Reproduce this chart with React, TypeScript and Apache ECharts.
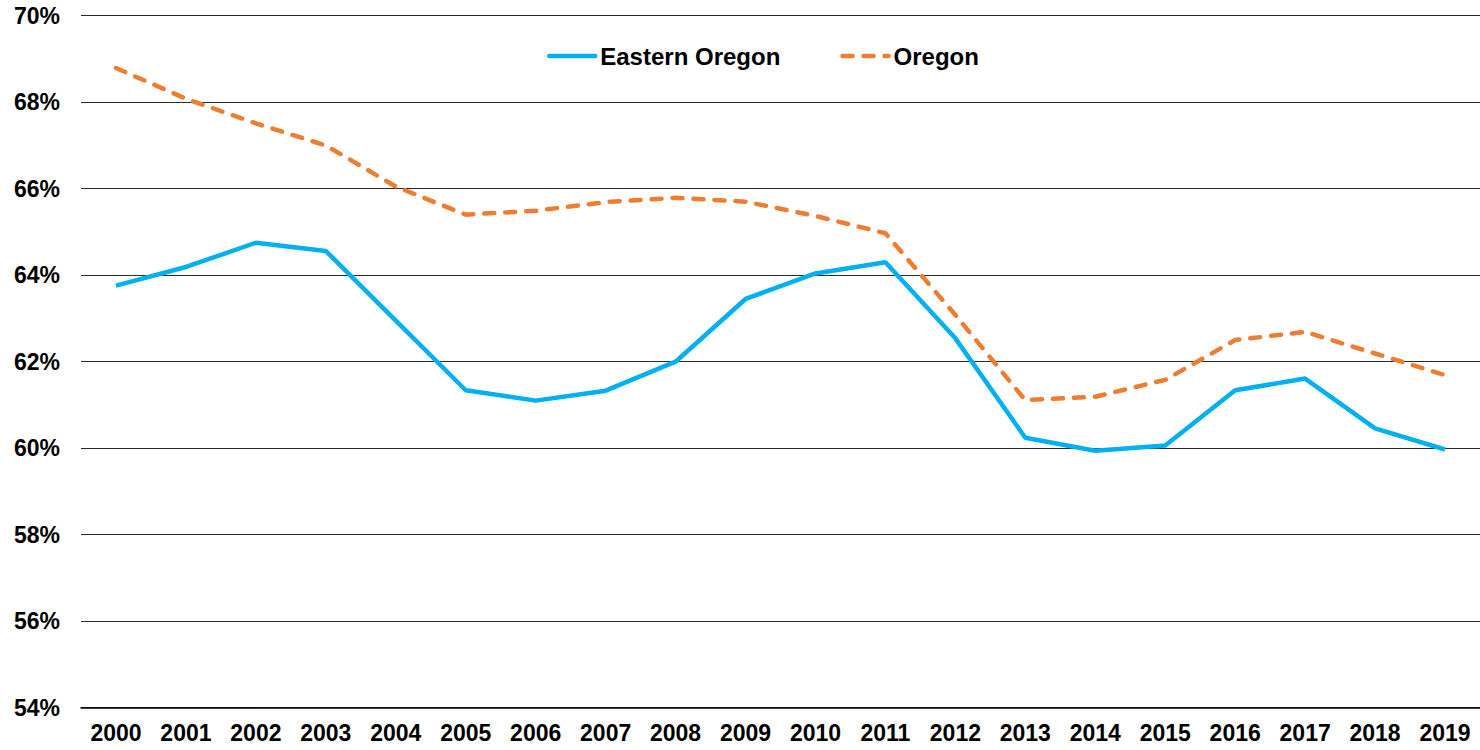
import React, { useEffect, useRef } from "react";
import * as echarts from "echarts";

const years = ["2000","2001","2002","2003","2004","2005","2006","2007","2008","2009","2010","2011","2012","2013","2014","2015","2016","2017","2018","2019"];
const easternOregon = [63.76,64.19,64.75,64.56,62.95,61.34,61.10,61.33,62.0,63.45,64.04,64.30,62.54,60.24,59.94,60.06,61.34,61.61,60.46,59.97];
const oregon = [68.79,68.08,67.51,67.0,66.05,65.40,65.49,65.69,65.79,65.70,65.37,64.97,63.08,61.11,61.19,61.58,62.50,62.69,62.19,61.69];
const yTicks = { min: 54, max: 70, interval: 2 };

const FONT = "'Liberation Sans', Arial, Helvetica, sans-serif";

export default function App() {
  const ref = useRef<HTMLDivElement>(null);
  useEffect(() => {
    if (!ref.current) return;
    const chart = echarts.init(ref.current, null, { renderer: "svg" });
    chart.setOption({
      animation: false,
      backgroundColor: "#ffffff",
      textStyle: { fontFamily: FONT },
      legend: {
        left: 542,
        top: 39,
        itemWidth: 46,
        itemHeight: 14,
        itemGap: 60,
        itemStyle: { opacity: 0 },
        lineStyle: { width: 4.5, cap: "round" },
        textStyle: { fontFamily: FONT, fontWeight: "bold", fontSize: 24, color: "#000" },
        data: ["Eastern Oregon", "Oregon"],
      },
      grid: { left: 81, top: 15.7, width: 1402, bottom: 42.3, containLabel: false },
      xAxis: {
        type: "category",
        data: years,
        boundaryGap: true,
        axisLine: { show: true, lineStyle: { color: "#000", width: 1.5 } },
        axisTick: { show: false },
        axisLabel: { color: "#000", fontFamily: FONT, fontWeight: "bold", fontSize: 23, margin: 14, interval: 0 },
      },
      yAxis: {
        type: "value",
        min: yTicks.min,
        max: yTicks.max,
        interval: yTicks.interval,
        axisLine: { show: false },
        axisTick: { show: false },
        splitLine: { show: true, lineStyle: { color: "#2b2b2b", width: 1.2 } },
        axisLabel: {
          color: "#000",
          fontFamily: FONT,
          fontWeight: "bold",
          fontSize: 23,
          margin: 21,
          formatter: (v: number) => `${v}%`,
        },
      },
      series: [
        {
          name: "Eastern Oregon",
          type: "line",
          data: easternOregon,
          symbol: "none",
          lineStyle: { color: "#00B0F0", width: 4.5 },
          itemStyle: { color: "#00B0F0" },
        },
        {
          name: "Oregon",
          type: "line",
          data: oregon,
          symbol: "none",
          lineStyle: { color: "#ED7D31", width: 4.5, type: [10, 11], cap: "round" },
          itemStyle: { color: "#ED7D31" },
        },
      ],
    });
    return () => chart.dispose();
  }, []);
  return (
    <div
      ref={ref}
      style={{ position: "absolute", left: 0, top: 0, width: 1480, height: 750, background: "#fff" }}
    />
  );
}
